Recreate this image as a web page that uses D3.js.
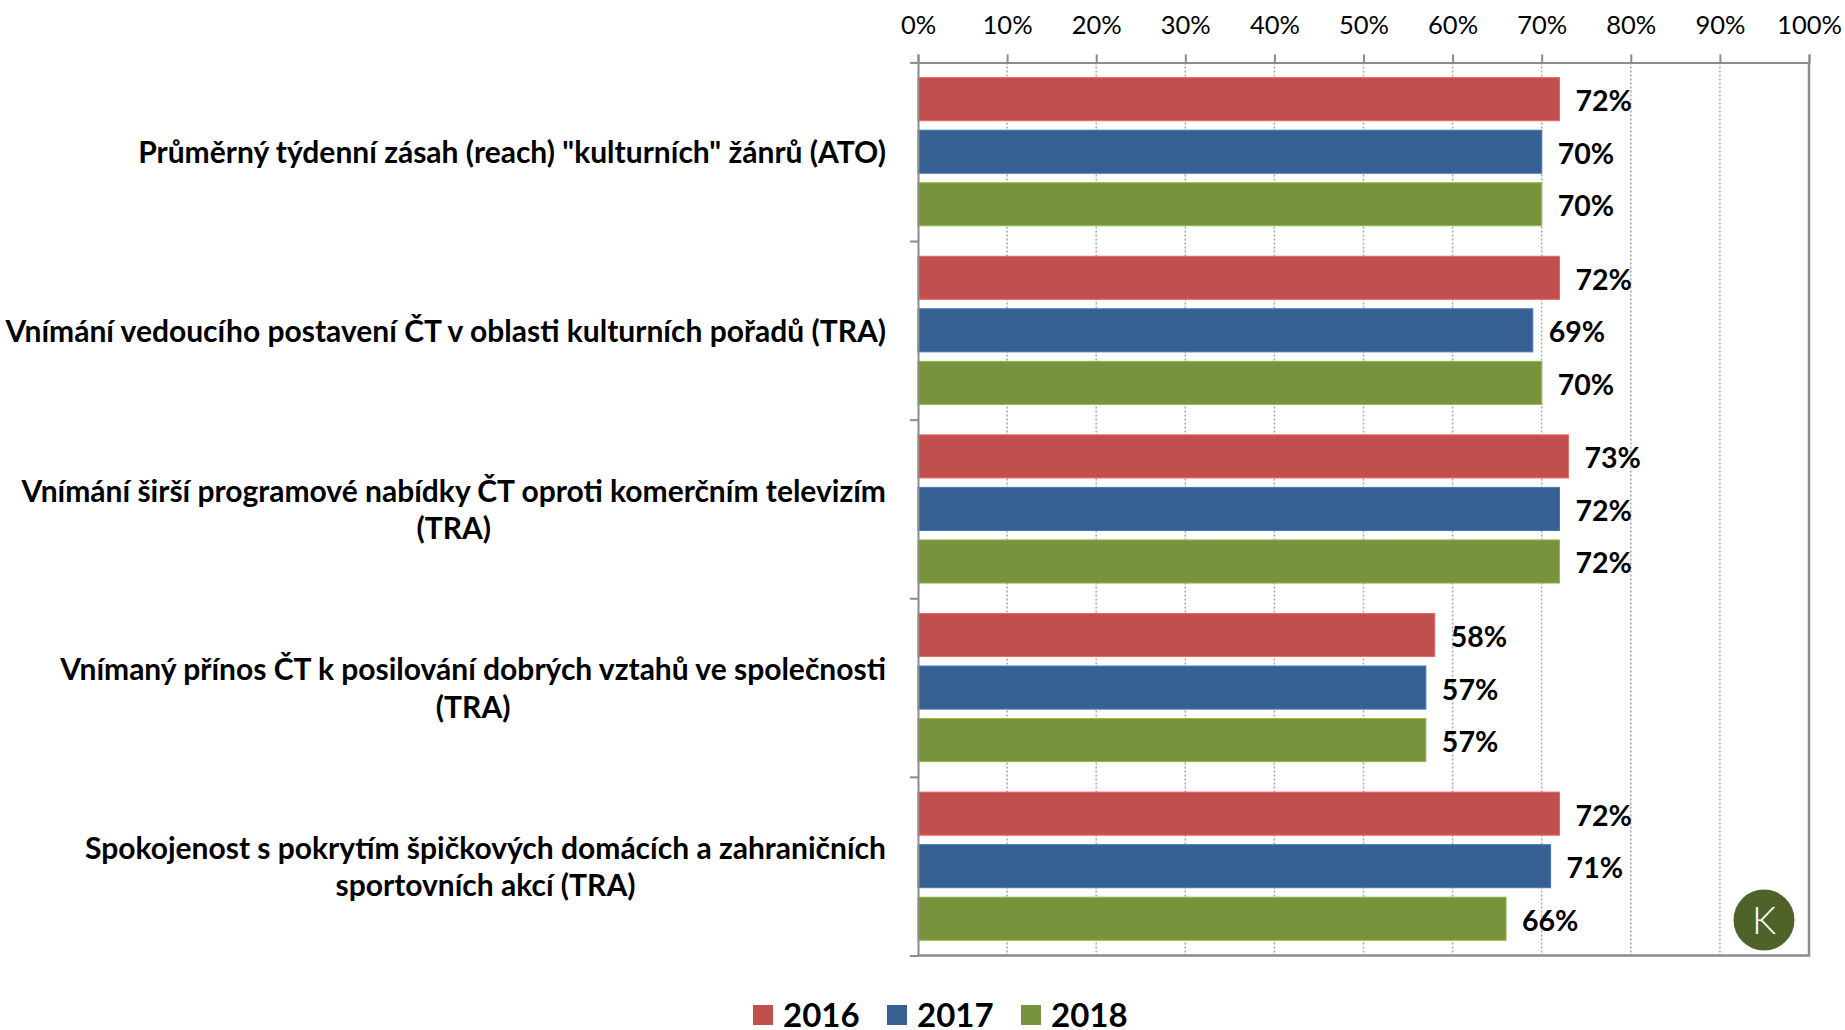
<!DOCTYPE html>
<html>
<head>
<meta charset="utf-8">
<script src="https://cdn.jsdelivr.net/npm/d3@7"></script>
<style>
  body { margin: 0; background: #fff; }
  svg { display: block; font-family: Lato, "Open Sans", sans-serif; }
</style>
</head>
<body>
<svg id="chart" width="1845" height="1030"></svg>
<script>
// data
var categories = [
  ["Průměrný týdenní zásah (reach) \"kulturních\" žánrů (ATO)"],
  ["Vnímání vedoucího postavení ČT v oblasti kulturních pořadů (TRA)"],
  ["Vnímání širší programové nabídky ČT oproti komerčním televizím", "(TRA)"],
  ["Vnímaný přínos ČT k posilování dobrých vztahů ve společnosti", "(TRA)"],
  ["Spokojenost s pokrytím špičkových domácích a zahraničních", "sportovních akcí (TRA)"]
];
var years = ["2016", "2017", "2018"];
var values2016 = [0.72, 0.72, 0.73, 0.58, 0.72];
var values2017 = [0.70, 0.69, 0.72, 0.57, 0.71];
var values2018 = [0.70, 0.70, 0.72, 0.57, 0.66];
var colors = ["#c0504d", "#376092", "#77933c"];
var tickLabels = d3.range(0, 11).map(function(d){ return d / 10 });

var series = [values2016, values2017, values2018];
var rows = categories.map(function(c, i){
  return { label: c, key: i, vals: years.map(function(y, j){ return { year: y, v: series[j][i], c: colors[j] } }) };
});

var svg = d3.select("#chart");
var plotLeft = 918, plotRight = 1809, plotTop = 62.4, plotBottom = 955.5;
var axisGray = "#8c8c8c";

var x = d3.scaleLinear().domain([0, 1]).range([plotLeft, plotRight]);
var y0 = d3.scaleBand().domain(d3.range(categories.length)).range([plotTop, plotBottom]);
var y1 = d3.scaleBand().domain(years).range([0, y0.bandwidth()]).paddingInner(0.18).paddingOuter(0.29);
var yLin = d3.scaleLinear().domain([0, categories.length]).range([plotTop, plotBottom]);

// dotted gridlines
svg.append("g").selectAll("line")
  .data(tickLabels.filter(function(d){ return d > 0 && d < 1 }))
  .enter().append("line")
  .attr("x1", function(d){ return x(d) }).attr("x2", function(d){ return x(d) })
  .attr("y1", plotTop).attr("y2", plotBottom)
  .attr("stroke", "#a6a6a6").attr("stroke-width", 1.5)
  .attr("stroke-dasharray", "2,2");

// right + bottom border
svg.append("path")
  .attr("d", "M" + plotRight + "," + plotTop + " V" + plotBottom + " H" + plotLeft)
  .attr("fill", "none").attr("stroke", axisGray).attr("stroke-width", 2.5);

// bars
var groups = svg.append("g").selectAll("g")
  .data(rows).enter().append("g")
  .attr("transform", function(d){ return "translate(0," + y0(d.key) + ")" });

groups.selectAll("rect")
  .data(function(d){ return d.vals })
  .enter().append("rect")
  .attr("x", x(0))
  .attr("y", function(d){ return y1(d.year) })
  .attr("width", function(d){ return x(d.v) - x(0) })
  .attr("height", y1.bandwidth())
  .attr("fill", function(d){ return d.c })
  .attr("stroke", function(d){ return d3.color(d.c).brighter(0.6) })
  .attr("stroke-width", 1);

groups.selectAll("text.val")
  .data(function(d){ return d.vals })
  .enter().append("text")
  .attr("class", "val")
  .attr("x", function(d){ return x(d.v) + 16 })
  .attr("y", function(d){ return y1(d.year) + y1.bandwidth() / 2 })
  .attr("dy", "0.42em")
  .style("font-size", "28.5px").style("font-weight", "bold")
  .text(function(d){ return Math.round(d.v * 100) + "%" });

// top axis
var xAxis = svg.append("g")
  .attr("transform", "translate(0," + plotTop + ")")
  .call(d3.axisTop(x).tickValues(tickLabels).tickFormat(d3.format(".0%")).tickSize(8).tickPadding(20));
xAxis.selectAll("path, line").attr("stroke", axisGray).attr("stroke-width", 2);
xAxis.selectAll("text").style("font-size", "25.5px").attr("fill", "#000").style("font-family", "Lato, sans-serif");

// left axis with ticks at band boundaries
var yAxis = svg.append("g")
  .attr("transform", "translate(" + plotLeft + ",0)")
  .call(d3.axisLeft(yLin).ticks(categories.length).tickFormat("").tickSize(8).tickSizeOuter(0));
yAxis.selectAll("path, line").attr("stroke", axisGray).attr("stroke-width", 2);

// category labels, block right-aligned, lines centred
var labelRight = 886;
groups.each(function(d){
  var g = d3.select(this);
  var t = g.append("text")
    .style("font-size", "30px").style("font-weight", "bold").attr("text-anchor", "middle");
  var lh = 37.6;
  var n = d.label.length;
  d.label.forEach(function(line, k){
    t.append("tspan").attr("x", 0)
      .attr("y", y0.bandwidth() / 2 + (k - (n - 1) / 2) * lh)
      .attr("dy", "0.38em")
      .text(line);
  });
  var w = 0;
  t.selectAll("tspan").each(function(){ w = Math.max(w, this.getComputedTextLength()) });
  t.selectAll("tspan").attr("x", labelRight - w / 2);
});

// legend
var legend = svg.append("g").selectAll("g")
  .data(years).enter().append("g")
  .attr("transform", function(d, i){ return "translate(" + (753 + i * 134) + ",1014)" });
legend.append("rect")
  .attr("x", 0).attr("y", -9).attr("width", 20).attr("height", 20)
  .attr("fill", function(d, i){ return colors[i] });
legend.append("text")
  .attr("x", 30).attr("dy", "0.38em")
  .style("font-size", "33px").style("font-weight", "bold")
  .text(function(d){ return d });

// logo
var logo = svg.append("g").attr("transform", "translate(1764,920)");
logo.append("circle").attr("r", 30.5).attr("fill", "#4f6228");
logo.append("text").attr("text-anchor", "middle").attr("dy", "0.36em")
  .attr("fill", "#fff").style("font-size", "38px").style("font-weight", "300")
  .text("K");
</script>
</body>
</html>
